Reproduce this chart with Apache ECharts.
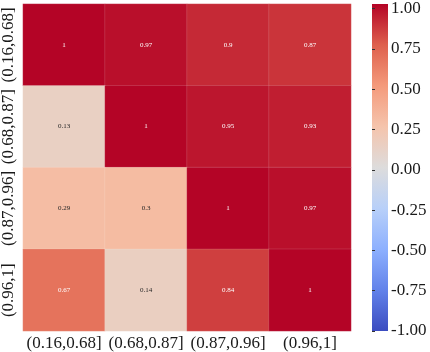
<!DOCTYPE html>
<html>
<head>
<meta charset="utf-8">
<script src="https://cdn.jsdelivr.net/npm/echarts@6/dist/echarts.min.js"></script>
<style>
  html, body { margin: 0; padding: 0; background: #fff; }
  #chart { width: 430px; height: 352px; }
</style>
</head>
<body>
<div id="chart"></div>
<script>
const categories = ["(0.16,0.68]", "(0.68,0.87]", "(0.87,0.96]", "(0.96,1]"];
// one row per y category, top to bottom
const row1 = [1, 0.97, 0.9, 0.87];
const row2 = [0.13, 1, 0.95, 0.93];
const row3 = [0.29, 0.3, 1, 0.97];
const row4 = [0.67, 0.14, 0.84, 1];
const rows = [row1, row2, row3, row4];
const colorbarTicks = [-1, -0.75, -0.5, -0.25, 0, 0.25, 0.5, 0.75, 1];

// coolwarm, low -> high
const coolwarm = ["#3b4cc0", "#6282ea", "#8db0fe", "#b8d0f9", "#dddcdc",
  "#f5c4ac", "#f49a7b", "#de604d", "#b40426"];

const font = "Liberation Serif";

const cells = [];
rows.forEach((r, yi) => {
  r.forEach((v, xi) => cells.push({
    value: [xi, yi, v],
    label: { color: Math.abs(v) < 0.5 ? "#262626" : "#ffffff" }
  }));
});

const chart = echarts.init(document.getElementById("chart"));

// colorbar gradient, top = max
const barStops = coolwarm.slice().reverse().map((c, i, a) => ({ offset: i / (a.length - 1), color: c }));

chart.setOption({
  animation: false,
  grid: [
    { left: 22, top: 4, width: 329, height: 327 },
    { left: 372, top: 4, width: 16, height: 327 }
  ],
  xAxis: [
    {
      type: "category", gridIndex: 0, data: categories,
      axisLine: { show: false }, axisTick: { show: false },
      splitLine: { show: false },
      axisLabel: { interval: 0, fontFamily: font, fontSize: 17, color: "#1a1a1a", margin: 4 }
    },
    { type: "value", gridIndex: 1, show: false, min: 0, max: 1 }
  ],
  yAxis: [
    {
      type: "category", gridIndex: 0, data: categories, inverse: true,
      axisLine: { show: false }, axisTick: { show: false },
      splitLine: { show: false },
      axisLabel: { interval: 0, fontFamily: font, fontSize: 17, color: "#1a1a1a", rotate: 90, margin: 6 }
    },
    {
      type: "value", gridIndex: 1, position: "right", min: -1, max: 1, interval: 0.25,
      axisLine: { show: false },
      axisTick: { show: true, length: 3, lineStyle: { color: "#333" } },
      splitLine: { show: false },
      splitArea: { show: false },
      axisLabel: {
        fontFamily: font, fontSize: 17, color: "#1a1a1a", margin: 3,
        formatter: v => colorbarTicks.includes(v) ? v.toFixed(2) : ""
      }
    }
  ],
  visualMap: {
    type: "continuous", min: -1, max: 1, seriesIndex: 0, show: false,
    inRange: { color: coolwarm }
  },
  graphic: [{
    type: "rect", left: 372, top: 4, z: -1,
    shape: { width: 16, height: 327 },
    style: { fill: new echarts.graphic.LinearGradient(0, 0, 0, 1, barStops) }
  }],
  series: [{
    type: "heatmap", xAxisIndex: 0, yAxisIndex: 0, data: cells,
    itemStyle: { borderColor: "rgba(255,255,255,0.25)", borderWidth: 0.5 },
    label: {
      show: true, fontFamily: font, fontSize: 7,
      formatter: p => String(p.value[2])
    },
    emphasis: { disabled: true }
  }]
});
</script>
</body>
</html>
